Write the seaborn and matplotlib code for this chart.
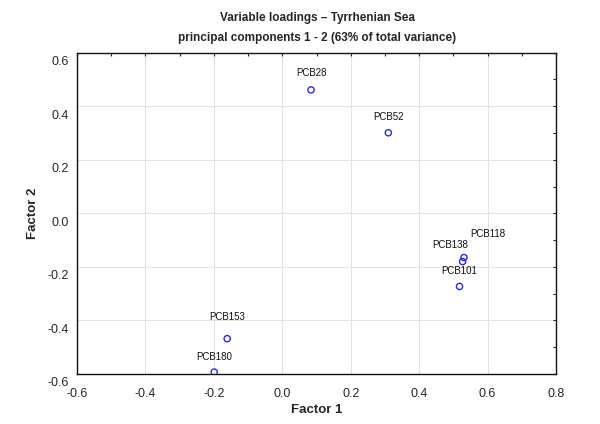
import matplotlib
matplotlib.use("Agg")
import matplotlib.pyplot as plt
import matplotlib.transforms as mtransforms
import seaborn as sns
import pandas as pd
from matplotlib.ticker import MultipleLocator, FormatStrFormatter

variables = ["PCB28", "PCB52", "PCB118", "PCB138", "PCB101", "PCB153", "PCB180"]
factor1 = [0.084, 0.310, 0.531, 0.527, 0.518, -0.161, -0.199]
factor2 = [0.461, 0.301, -0.165, -0.180, -0.273, -0.468, -0.593]

title_main = "Variable loadings \u2013 Tyrrhenian Sea"
title_sub = "principal components 1 - 2 (63% of total variance)"

df = pd.DataFrame({"var": variables, "Factor 1": factor1, "Factor 2": factor2})

sns.set_style("white")
plt.rcParams["font.family"] = ["Liberation Sans", "DejaVu Sans"]

fig = plt.figure(figsize=(6.0, 4.24), dpi=100)
ax = fig.add_axes([77/600, 1-374/424, (556-77)/600, (374-52.7)/424])

sns.scatterplot(data=df, x="Factor 1", y="Factor 2", ax=ax, s=20,
                facecolor="none", edgecolor="#2b2bd0", linewidth=1.0,
                legend=False, zorder=3)

# label offsets in pixels (dx, dy)
offsets = {"PCB28": (0, 12), "PCB52": (0, 11), "PCB118": (24, 19),
           "PCB138": (-12, 12), "PCB101": (0, 10), "PCB153": (0, 17),
           "PCB180": (0, 10)}
for v, x, y in zip(variables, factor1, factor2):
    dx, dy = offsets[v]
    ax.annotate(v, (x, y), xytext=(dx * 0.72, dy * 0.72), textcoords="offset points",
                ha="center", va="bottom", fontsize=7, color="#111111")

ax.set_xlim(-0.6, 0.8)
ax.set_ylim(-0.6, 0.6)
ax.xaxis.set_major_locator(MultipleLocator(0.2))
ax.yaxis.set_major_locator(MultipleLocator(0.2))
ax.xaxis.set_minor_locator(MultipleLocator(0.1))
ax.yaxis.set_minor_locator(MultipleLocator(0.1))
ax.xaxis.set_major_formatter(FormatStrFormatter("%.1f"))
ax.yaxis.set_major_formatter(FormatStrFormatter("%.1f"))
ax.tick_params(which="both", direction="in", top=True, right=True,
               length=2.5, width=0.8, color="#222222", labelsize=9)
ax.tick_params(axis="x", pad=10)
ax.tick_params(axis="y", pad=6)
ax.grid(True, which="major", color="#e2e2e2", linewidth=0.7)
for sp in ax.spines.values():
    sp.set_color("#111111")
    sp.set_linewidth(1.0)

# y tick labels sit slightly below their gridlines, as in the reference
shift = mtransforms.ScaledTranslation(0, -8/100, fig.dpi_scale_trans)
for lab in ax.get_yticklabels():
    lab.set_transform(lab.get_transform() + shift)

ax.set_xlabel("Factor 1", fontsize=9.5, fontweight="bold", labelpad=3)
ax.set_ylabel("Factor 2", fontsize=9.5, fontweight="bold", labelpad=6)

fig.text(317/600, 1-18/424, title_main, ha="center", va="center",
         fontsize=8.5, fontweight="bold")
fig.text(317/600, 1-38/424, title_sub, ha="center", va="center",
         fontsize=8.5, fontweight="bold")

fig.savefig("out.png", dpi=100, facecolor="white")
